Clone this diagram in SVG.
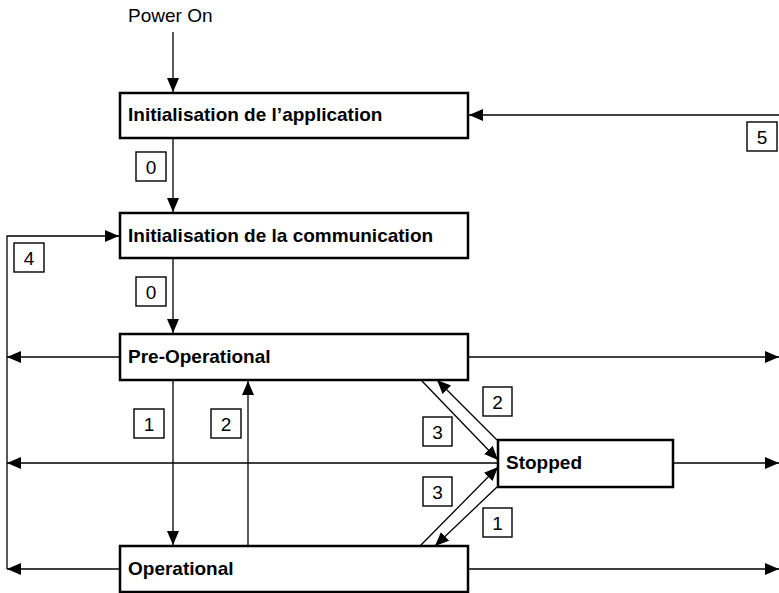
<svg xmlns="http://www.w3.org/2000/svg" width="779" height="593" viewBox="0 0 779 593">
<style>
.box{fill:#fff;stroke:#000;stroke-width:2.5}
.lbl{fill:#fff;stroke:#000;stroke-width:1.4}
.t{font-family:"Liberation Sans",Arial,sans-serif;font-size:19px;font-weight:bold;fill:#000}
.n{font-family:"Liberation Sans",Arial,sans-serif;font-size:19px;fill:#000}
.d{font-family:"Liberation Sans",Arial,sans-serif;font-size:19px;fill:#000;text-anchor:middle}
.c{fill:none;stroke:#000;stroke-width:1.3;marker-end:url(#ah)}
.p{fill:none;stroke:#000;stroke-width:1.3}
</style>
<defs>
<marker id="ah" markerUnits="userSpaceOnUse" markerWidth="14" markerHeight="12" refX="14" refY="6" orient="auto">
<path d="M0,0 L14,6 L0,12 z" fill="#000"/>
</marker>
</defs>
<text class="n" x="128" y="22">Power On</text>
<g id="connectors">
<path class="c" d="M173,32 V92"/>
<path class="c" d="M173,138 V212"/>
<path class="c" d="M173,258 V333"/>
<path class="c" d="M173,380 V545"/>
<path class="c" d="M248,546 V381"/>
<path class="c" d="M120,357 H7"/>
<path class="c" d="M498,463 H7"/>
<path class="c" d="M120,569 H7"/>
<path class="c" d="M7,569 V236 H119"/>
<path class="c" d="M468,357 H779"/>
<path class="c" d="M673,463 H779"/>
<path class="c" d="M468,569 H779"/>
<path class="c" d="M779,115 H469"/>
<path class="c" d="M421,380 L498,460"/>
<path class="c" d="M497,440 L437,380"/>
<path class="c" d="M420,546 L498,467"/>
<path class="c" d="M497,487 L435,546"/>
<g id="labels">
<rect class="lbl" x="136" y="152" width="30" height="29"/><text class="d" x="151" y="174">0</text>
<rect class="lbl" x="136" y="277" width="30" height="29"/><text class="d" x="151" y="299">0</text>
<rect class="lbl" x="14" y="243" width="30" height="29"/><text class="d" x="29" y="265">4</text>
<rect class="lbl" x="747" y="122" width="30" height="29"/><text class="d" x="762" y="144">5</text>
<rect class="lbl" x="134" y="409" width="30" height="29"/><text class="d" x="149" y="431">1</text>
<rect class="lbl" x="211" y="409" width="30" height="29"/><text class="d" x="226" y="431">2</text>
<rect class="lbl" x="423" y="417" width="29" height="29"/><text class="d" x="437.5" y="439">3</text>
<rect class="lbl" x="423" y="477" width="29" height="29"/><text class="d" x="437.5" y="499">3</text>
<rect class="lbl" x="483" y="387" width="29" height="29"/><text class="d" x="497.5" y="409">2</text>
<rect class="lbl" x="483" y="508" width="29" height="29"/><text class="d" x="497.5" y="530">1</text>
</g>
</g>
<g id="init-app"><rect class="box" x="120" y="93" width="348" height="45"/><text class="t" x="128" y="121">Initialisation de l’application</text></g>
<g id="init-comm"><rect class="box" x="120" y="213" width="348" height="45"/><text class="t" x="128" y="242">Initialisation de la communication</text></g>
<g id="pre-op"><rect class="box" x="120" y="334" width="348" height="46"/><text class="t" x="128" y="363">Pre-Operational</text></g>
<g id="stopped"><rect class="box" x="498" y="440" width="175" height="47"/><text class="t" x="506" y="469">Stopped</text></g>
<g id="operational"><rect class="box" x="120" y="546" width="348" height="46"/><text class="t" x="128" y="575">Operational</text></g>
</svg>
